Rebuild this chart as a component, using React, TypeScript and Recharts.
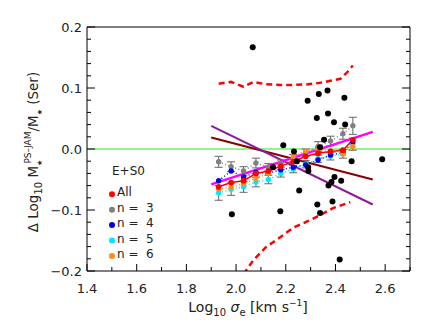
import React from "react";
import { ComposedChart, Line, Scatter, XAxis, YAxis, ReferenceLine, ErrorBar } from "recharts";

const FONT = "'DejaVu Sans', sans-serif";
const RED = "#ff0000";
const GRAY = "#808080";
const BLUE = "#0000ee";
const CYAN = "#00e8ff";
const ORANGE = "#ff8c1a";
const GREEN = "#22ee22";
const PURPLE = "#8c1a9a";
const MAROON = "#880000";
const MAGENTA = "#ff00ff";

const X_TICKS = [1.4, 1.5, 1.6, 1.7, 1.8, 1.9, 2.0, 2.1, 2.2, 2.3, 2.4, 2.5, 2.6, 2.7];
const Y_TICKS = [
  -0.2, -0.18, -0.16, -0.14, -0.12, -0.1, -0.08, -0.06, -0.04, -0.02, 0, 0.02, 0.04, 0.06, 0.08, 0.1, 0.12,
  0.14, 0.16, 0.18, 0.2,
];

// binned medians
const BIN_X = [1.93, 1.98, 2.03, 2.08, 2.13, 2.18, 2.23, 2.28, 2.33, 2.38, 2.43, 2.47];
const ALL_Y = [-0.062, -0.055, -0.052, -0.04, -0.036, -0.028, -0.021, -0.012, -0.007, -0.004, -0.002, 0.015];
const N3_Y = [-0.021, -0.029, -0.036, -0.023, -0.03, -0.024, -0.015, -0.006, 0.004, 0.013, 0.025, 0.038];
const N3_ERR = [0.009, 0.008, 0.007, 0.008, 0.006, 0.006, 0.006, 0.006, 0.008, 0.008, 0.009, 0.014];
const N4_Y = [-0.052, -0.036, -0.046, -0.038, -0.04, -0.034, -0.03, -0.026, -0.018, -0.01, -0.006, 0.012];
const N5_Y = [-0.072, -0.066, -0.062, -0.054, -0.05, -0.04, -0.033, -0.025, -0.016, -0.012, -0.008, 0.008];
const N5_ERR = [0.012, 0.01, 0.009, 0.008, 0.007, 0.006, 0.006, 0.006, 0.006, 0.006, 0.007, 0.01];
const N6_Y = [-0.066, -0.063, -0.057, -0.048, -0.04, -0.028, -0.012, -0.003, -0.002, -0.004, -0.008, 0.004];

// individual galaxies
const GAL_X = [
  2.067, 2.288, 2.333, 2.368, 2.436, 2.325, 2.37, 2.394, 2.439, 2.354, 2.19, 2.338, 2.233, 2.465, 2.588, 2.245,
  2.149, 2.29, 2.291, 2.254, 2.372, 2.384, 2.396, 2.423, 2.388, 2.327, 2.338, 2.178, 1.983, 2.417,
];
const GAL_Y = [
  0.167, 0.079, 0.09, 0.096, 0.084, 0.051, 0.058, 0.044, 0.04, 0.015, 0.006, 0.003, -0.004, -0.02, -0.017, -0.02,
  -0.03, -0.03, -0.036, -0.068, -0.06, -0.054, -0.046, -0.052, -0.086, -0.091, -0.105, -0.102, -0.107, -0.181,
];

// scatter envelope
const UP_X = [1.93, 1.98, 2.03, 2.07, 2.12, 2.18, 2.23, 2.29, 2.33, 2.37, 2.42, 2.45, 2.47];
const UP_Y = [0.107, 0.11, 0.102, 0.11, 0.106, 0.105, 0.105, 0.106, 0.108, 0.111, 0.115, 0.127, 0.137];
const LO_X = [2.03, 2.07, 2.12, 2.18, 2.23, 2.29, 2.34, 2.39, 2.46];
const LO_Y = [-0.205, -0.182, -0.161, -0.144, -0.129, -0.118, -0.108, -0.097, -0.087];

// fits
const FIT_X = [1.9, 2.55];
const PURPLE_Y = [0.038, -0.091];
const MAROON_Y = [0.019, -0.05];
const MAGENTA_Y = [-0.058, 0.028];

const LEGEND_LABELS = ["All", "n =  3", "n =  4", "n =  5", "n =  6"];
const LEGEND_COLORS = [RED, GRAY, BLUE, CYAN, ORANGE];

const pts = (xs: number[], ys: number[], es?: number[]) =>
  xs.map((x, i) => ({ x, y: ys[i], e: es ? es[i] : 0 }));

function XTick(props: any) {
  const { x, y, payload, top } = props;
  const v = payload.value as number;
  const major = Math.round(v * 10) % 2 === 0;
  const len = major ? 7 : 4;
  if (top) return <line x1={x} x2={x} y1={y} y2={y + len} stroke="#000" />;
  return (
    <g>
      <line x1={x} x2={x} y1={y} y2={y - len} stroke="#000" />
      {major && (
        <text x={x} y={y + 22} textAnchor="middle" fontSize={13} fontFamily={FONT} fill="#222">
          {v.toFixed(1)}
        </text>
      )}
    </g>
  );
}

function YTick(props: any) {
  const { x, y, payload, right } = props;
  const v = payload.value as number;
  const major = Math.abs(v * 10 - Math.round(v * 10)) < 1e-6;
  const len = major ? 8 : 4;
  if (right) return <line x1={x} x2={x - len} y1={y} y2={y} stroke="#000" />;
  const label = v < -1e-9 ? "\u2212" + Math.abs(v).toFixed(1) : Math.abs(v).toFixed(1);
  return (
    <g>
      <line x1={x} x2={x + len} y1={y} y2={y} stroke="#000" />
      {major && (
        <text x={x - 5} y={y + 4.7} textAnchor="end" fontSize={13} fontFamily={FONT} fill="#222">
          {label}
        </text>
      )}
    </g>
  );
}

const dotted = (color: string) => ({
  stroke: color,
  strokeWidth: 1.5,
  strokeDasharray: "1 2.5",
  dot: { r: 2.7, fill: color, stroke: color, strokeWidth: 0 },
});

export default function App() {
  return (
    <div style={{ position: "relative", width: 436, height: 327, background: "#fff" }}>
      <style>{"body{margin:0}"}</style>
      <ComposedChart width={436} height={327} margin={{ top: 26, right: 25, bottom: 26, left: 37 }}>
        <XAxis
          dataKey="x"
          type="number"
          domain={[1.4, 2.7]}
          ticks={X_TICKS}
          interval={0}
          allowDataOverflow
          height={30}
          tickSize={0}
          tickMargin={0}
          tickLine={false}
          axisLine={{ stroke: "#000" }}
          tick={<XTick />}
        />
        <XAxis
          xAxisId="t"
          orientation="top"
          type="number"
          domain={[1.4, 2.7]}
          ticks={X_TICKS}
          interval={0}
          allowDataOverflow
          height={1}
          tickSize={0}
          tickMargin={0}
          tickLine={false}
          axisLine={{ stroke: "#000" }}
          tick={<XTick top />}
        />
        <YAxis
          type="number"
          domain={[-0.2, 0.2]}
          ticks={Y_TICKS}
          interval={0}
          allowDataOverflow
          width={50}
          tickSize={0}
          tickMargin={0}
          tickLine={false}
          axisLine={{ stroke: "#000" }}
          tick={<YTick />}
        />
        <YAxis
          yAxisId="r"
          orientation="right"
          type="number"
          domain={[-0.2, 0.2]}
          ticks={Y_TICKS}
          interval={0}
          allowDataOverflow
          width={1}
          tickSize={0}
          tickMargin={0}
          tickLine={false}
          axisLine={{ stroke: "#000" }}
          tick={<YTick right />}
        />
        <ReferenceLine y={0} stroke={GREEN} strokeWidth={1.2} />
        <Line data={pts(UP_X, UP_Y)} dataKey="y" type="linear" stroke={RED} strokeWidth={2.5} strokeDasharray="6 4" dot={false} activeDot={false} isAnimationActive={false} />
        <Line data={pts(LO_X, LO_Y)} dataKey="y" type="linear" stroke={RED} strokeWidth={2.5} strokeDasharray="6 4" dot={false} activeDot={false} isAnimationActive={false} />
        <Line data={pts(FIT_X, MAROON_Y)} dataKey="y" type="linear" stroke={MAROON} strokeWidth={2} dot={false} activeDot={false} isAnimationActive={false} />
        <Line data={pts(FIT_X, PURPLE_Y)} dataKey="y" type="linear" stroke={PURPLE} strokeWidth={2} dot={false} activeDot={false} isAnimationActive={false} />
        <Line data={pts(BIN_X, N3_Y, N3_ERR)} dataKey="y" type="linear" {...dotted(GRAY)} activeDot={false} isAnimationActive={false}>
          <ErrorBar dataKey="e" direction="y" width={4} stroke="#666" strokeWidth={1} isAnimationActive={false} />
        </Line>
        <Line data={pts(BIN_X, N5_Y, N5_ERR)} dataKey="y" type="linear" {...dotted(CYAN)} activeDot={false} isAnimationActive={false}>
          <ErrorBar dataKey="e" direction="y" width={4} stroke="#666" strokeWidth={1} isAnimationActive={false} />
        </Line>
        <Line data={pts(BIN_X, N4_Y)} dataKey="y" type="linear" {...dotted(BLUE)} activeDot={false} isAnimationActive={false} />
        <Line data={pts(BIN_X, N6_Y)} dataKey="y" type="linear" {...dotted(ORANGE)} activeDot={false} isAnimationActive={false} />
        <Line data={pts(FIT_X, MAGENTA_Y)} dataKey="y" type="linear" stroke={MAGENTA} strokeWidth={2.5} dot={false} activeDot={false} isAnimationActive={false} />
        <Line data={pts(BIN_X, ALL_Y)} dataKey="y" type="linear" stroke={RED} strokeWidth={1.5} dot={{ r: 2.9, fill: RED, stroke: RED, strokeWidth: 0 }} activeDot={false} isAnimationActive={false} />
        <Scatter
          data={pts(GAL_X, GAL_Y)}
          dataKey="y"
          isAnimationActive={false}
          shape={(p: any) => <circle cx={p.cx} cy={p.cy} r={3} fill="#000" />}
        />
      </ComposedChart>
      <svg width={436} height={327} style={{ position: "absolute", left: 0, top: 0, pointerEvents: "none" }} fontFamily={FONT} fill="#222">
        <text x={248} y={312} textAnchor="middle" fontSize={14}>
          Log<tspan fontSize={10} dy={4}>10</tspan>
          <tspan fontSize={14} dy={-4}> </tspan>
          <tspan fontStyle="italic">σ</tspan>
          <tspan fontSize={10} dy={4}>e</tspan>
          <tspan fontSize={14} dy={-4}> [km s</tspan>
          <tspan fontSize={9} dy={-6}>−1</tspan>
          <tspan fontSize={14} dy={6}>]</tspan>
        </text>
        <text x={38} y={152} transform="rotate(-90 38 152)" textAnchor="middle" fontSize={13.5}>
          Δ Log<tspan fontSize={10} dy={4}>10</tspan>
          <tspan fontSize={13.5} dy={-4}> M</tspan>
          <tspan fontSize={7} dy={4}>★</tspan>
          <tspan fontSize={9} dy={-11} dx={-4}>PS–JAM</tspan>
          <tspan fontSize={13.5} dy={7}>/M</tspan>
          <tspan fontSize={7} dy={4}>★</tspan>
          <tspan fontSize={13.5} dy={-4}> (Ser)</tspan>
        </text>
        <text x={112} y={175} fontSize={12}>E+S0</text>
        {LEGEND_LABELS.map((label, i) => (
          <g key={label}>
            <circle cx={112} cy={194.3 + 15.4 * i} r={3} fill={LEGEND_COLORS[i]} />
            <text x={117} y={196.3 + 15.4 * i} fontSize={12} style={{ whiteSpace: "pre" }}>
              {label}
            </text>
          </g>
        ))}
      </svg>
    </div>
  );
}
